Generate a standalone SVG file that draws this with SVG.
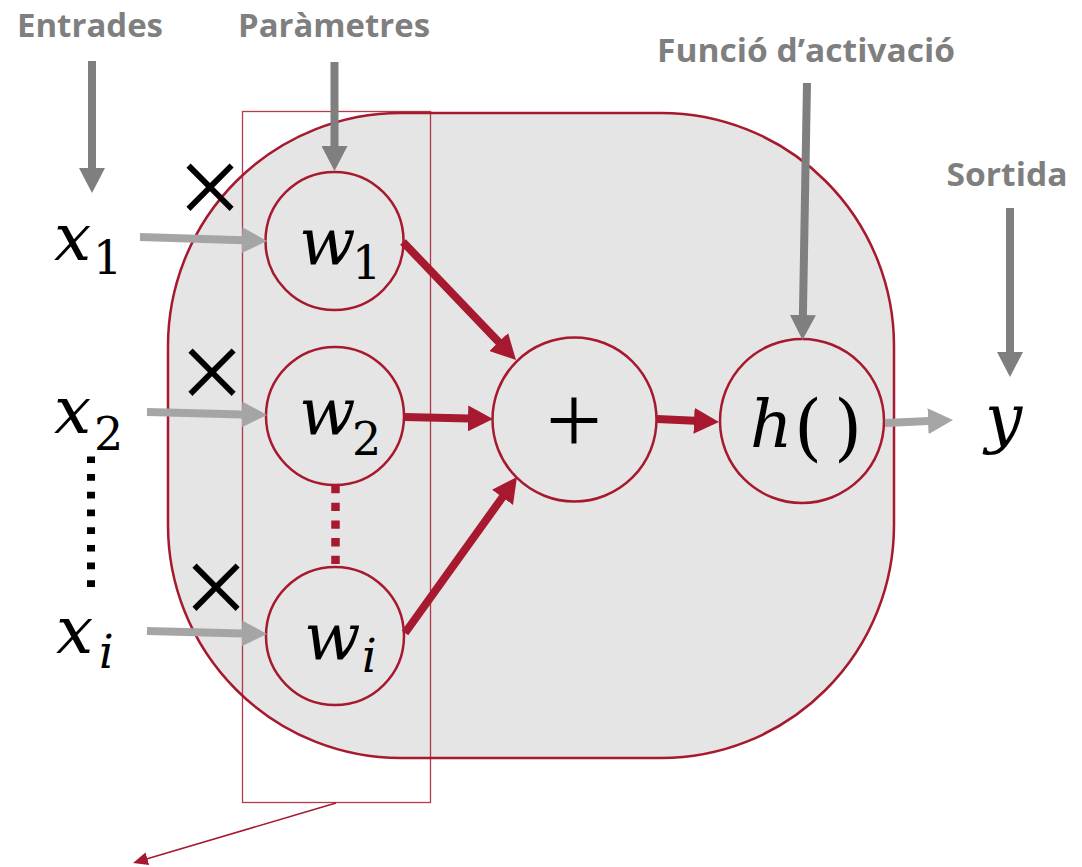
<svg xmlns="http://www.w3.org/2000/svg" width="1082" height="867" viewBox="0 0 1082 867">
<style>
.lbl{font-family:"Open Sans","Liberation Sans",sans-serif;font-weight:bold;font-size:32px;fill:#7f7f7f;text-anchor:middle}
.m{font-family:"DejaVu Serif","Liberation Serif",serif;font-style:italic;font-size:66px;fill:#000}
.sub{font-family:"DejaVu Serif","Liberation Serif",serif;font-size:46px;fill:#000}
.subi{font-family:"DejaVu Serif","Liberation Serif",serif;font-style:italic;font-size:46px;fill:#000}
.par{font-family:"DejaVu Serif","Liberation Serif",serif;font-size:72px;fill:#000}
.op{font-family:"Liberation Serif",serif;font-size:100px;fill:#000;text-anchor:middle}
.mul{font-family:"Liberation Serif",serif;font-size:116px;fill:#000;text-anchor:middle}
.node{fill:#e5e5e5;stroke:#a6192e;stroke-width:2.5}
.dark{stroke:#7f7f7f;stroke-width:8;fill:none;marker-end:url(#hDark)}
.light{stroke:#a5a5a5;stroke-width:8;fill:none;marker-end:url(#hLight)}
.red{stroke:#a6192e;stroke-width:8;fill:none;marker-end:url(#hRed)}
</style>
<defs>
<marker id="hDark" markerUnits="userSpaceOnUse" viewBox="0 -13 25 26" markerWidth="25" markerHeight="26" refX="1" refY="0" orient="auto"><path d="M0,-13 L25,0 L0,13 z" fill="#7f7f7f"/></marker>
<marker id="hLight" markerUnits="userSpaceOnUse" viewBox="0 -13 25 26" markerWidth="25" markerHeight="26" refX="1" refY="0" orient="auto"><path d="M0,-13 L25,0 L0,13 z" fill="#a5a5a5"/></marker>
<marker id="hRed" markerUnits="userSpaceOnUse" viewBox="0 -13 25 26" markerWidth="25" markerHeight="26" refX="1" refY="0" orient="auto"><path d="M0,-13 L25,0 L0,13 z" fill="#a6192e"/></marker>
<marker id="hThin" markerUnits="userSpaceOnUse" viewBox="0 -6.5 15 13" markerWidth="15" markerHeight="13" refX="1" refY="0" orient="auto"><path d="M0,-6.5 L15,0 L0,6.5 z" fill="#a6192e"/></marker>
</defs>
<rect width="1082" height="867" fill="#ffffff"/>

<g id="neuron">
<rect x="168" y="113" width="726" height="645" rx="233" ry="233" fill="#e5e5e5" stroke="#a6192e" stroke-width="2.5"/>
</g>
<g id="param-box">
<rect x="242.5" y="111.5" width="188" height="691" fill="none" stroke="#a6192e" stroke-width="1.3" stroke-opacity="0.85"/>
</g>

<g id="node-w1"><circle class="node" cx="334.5" cy="241" r="69"/>
<text class="m" x="299" y="265">w</text><text class="sub" x="352" y="279">1</text></g>
<g id="node-w2"><circle class="node" cx="335" cy="416" r="69"/>
<text class="m" x="299" y="435">w</text><text class="sub" x="352" y="455">2</text></g>
<g id="node-wi"><circle class="node" cx="335" cy="636" r="69"/>
<text class="m" x="304" y="660">w</text><text class="subi" x="362" y="672">i</text></g>
<g id="node-sum"><circle class="node" cx="574.5" cy="419.5" r="82"/>
<text class="op" x="574" y="454">+</text></g>
<g id="node-h"><circle class="node" cx="802" cy="421" r="82"/>
<text class="m" x="750" y="447">h</text><text class="par" x="794" y="452">(</text><text class="par" x="834" y="452">)</text></g>

<g id="inputs">
<text class="m" x="54" y="260">x</text><text class="sub" x="93" y="274">1</text>
<text class="m" x="54" y="433">x</text><text class="sub" x="94" y="450">2</text>
<text class="m" x="56" y="653">x</text><text class="subi" x="99" y="668">i</text>
</g>
<g id="output"><text class="m" x="985" y="440">y</text></g>

<g id="mult">
<text class="mul" x="210" y="226">×</text>
<text class="mul" x="212" y="411">×</text>
<text class="mul" x="216" y="626">×</text>
</g>

<g id="labels">
<text class="lbl" x="90" y="37" textLength="146" lengthAdjust="spacingAndGlyphs">Entrades</text>
<text class="lbl" x="334" y="37" textLength="192" lengthAdjust="spacingAndGlyphs">Paràmetres</text>
<text class="lbl" x="806" y="62" textLength="298" lengthAdjust="spacingAndGlyphs">Funció d’activació</text>
<text class="lbl" x="1007" y="186" textLength="121" lengthAdjust="spacingAndGlyphs">Sortida</text>
</g>

<g id="connectors">
<line class="dark" x1="92" y1="61" x2="92" y2="169"/>
<line class="dark" x1="334.5" y1="62" x2="334.5" y2="147"/>
<line class="dark" x1="807" y1="83" x2="802.9" y2="316"/>
<line class="dark" x1="1010" y1="208" x2="1010" y2="353"/>
<line class="light" x1="140" y1="237" x2="243" y2="240.2"/>
<line class="light" x1="147" y1="412" x2="243" y2="414.4"/>
<line class="light" x1="147" y1="631" x2="243" y2="633.4"/>
<line class="light" x1="885" y1="423" x2="929" y2="421.1"/>
<line class="red" x1="403" y1="242" x2="499.4" y2="342.7"/>
<line class="red" x1="405" y1="417" x2="469" y2="418.5"/>
<line class="red" x1="405" y1="633" x2="503" y2="496.5"/>
<line class="red" x1="657" y1="419" x2="695" y2="420.8"/>
<line x1="335.5" y1="485" x2="335.5" y2="565" stroke="#a6192e" stroke-width="8.5" stroke-dasharray="8.3 9.4"/>
<line x1="91" y1="456.4" x2="91" y2="587" stroke="#000" stroke-width="8" stroke-dasharray="6.7 11"/>
<line x1="336" y1="803" x2="146.4" y2="859" stroke="#a6192e" stroke-width="1.5" marker-end="url(#hThin)"/>
</g>
</svg>
